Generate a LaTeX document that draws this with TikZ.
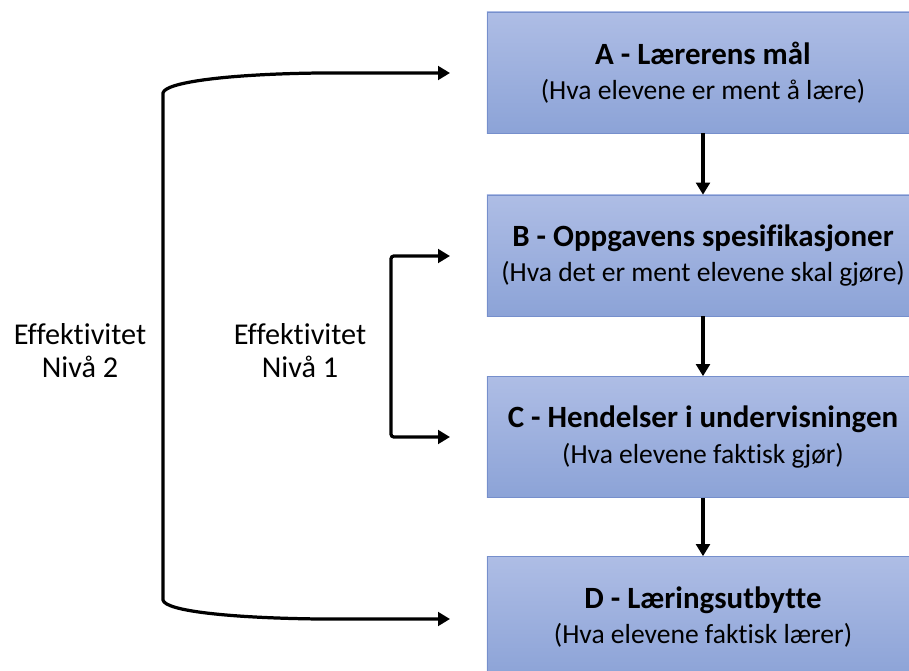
\documentclass[tikz,border=0pt]{standalone}
\usepackage{fontspec}
\setmainfont{Carlito}[Ligatures=NoCommon]
\usetikzlibrary{arrows.meta}
\definecolor{boxtop}{RGB}{174,189,229}
\definecolor{boxbot}{RGB}{140,163,215}
\definecolor{boxline}{RGB}{118,143,204}
\newcommand{\stagetitle}[1]{{\bfseries\fontsize{22pt}{25pt}\selectfont #1}}
\tikzset{
  stagebox/.style = {draw=boxline, top color=boxtop, bottom color=boxbot,
                     minimum width=10.8cm, minimum height=3.025cm,
                     inner sep=0pt, align=center,
                     font=\fontsize{19.6pt}{25pt}\selectfont},
  flowar/.style   = {-{Triangle[length=3mm,width=3.4mm]}, line width=2.3pt},
  bothar/.style   = {{Triangle[length=3mm,width=3.4mm]}-{Triangle[length=3mm,width=3.4mm]},
                     line width=2.3pt},
  lvltext/.style  = {align=center, font=\fontsize{21.5pt}{23.5pt}\selectfont}
}

\begin{document}
\begin{tikzpicture}[x=0.025cm,y=-0.025cm]
  \useasboundingbox (0,0) rectangle (909,671);
  \clip (0,0) rectangle (909,671);
  \node[stagebox] (A) at (703,72.5)
    {\stagetitle{A - Lærerens mål}\\(Hva elevene er ment å lære)};
  \node[stagebox] (B) at (703,255.5)
    {\stagetitle{B - Oppgavens spesifikasjoner}\\(Hva det er ment elevene skal gjøre)};
  \node[stagebox] (C) at (703,437)
    {\stagetitle{C - Hendelser i undervisningen}\\(Hva elevene faktisk gjør)};
  \node[stagebox] (D) at (703,617)
    {\stagetitle{D - Læringsutbytte}\\(Hva elevene faktisk lærer)};
  \foreach \u/\v in {A/B,B/C,C/D}
    \draw[flowar] (\u.south) -- (\v.north);
  % free ends of the level arrows, left of the boxes
  \coordinate (a-in) at (450,73);
  \coordinate (b-in) at (450,256);
  \coordinate (c-in) at (450,437);
  \coordinate (d-in) at (450,619);
  \draw[bothar, rounded corners=2pt] (c-in) -- (391,437) -- (391,256) -- (b-in);
  \draw[bothar]
    (a-in) -- (320,73) .. controls (230,74) and (165,82) .. (163,93)
    -- (163,600) .. controls (165,611) and (230,618) .. (320,619) -- (d-in);
  \node[lvltext] (lvl2) at (80,351) {Effektivitet\\Nivå 2};
  \node[lvltext] (lvl1) at (300,351) {Effektivitet\\Nivå 1};
\end{tikzpicture}
\end{document}
